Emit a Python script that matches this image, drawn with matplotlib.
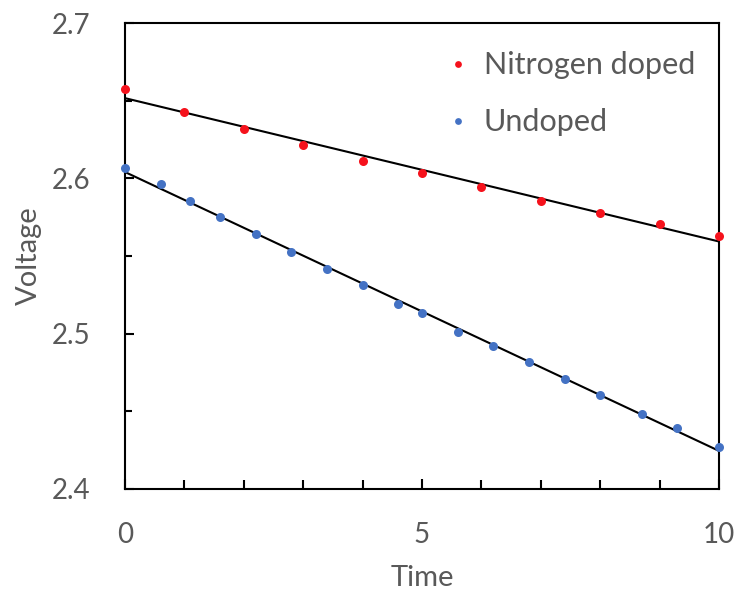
import numpy as np
import matplotlib
matplotlib.use("Agg")
import matplotlib.pyplot as plt
from matplotlib.ticker import MultipleLocator

plt.rcParams['font.family'] = ['Lato', 'DejaVu Sans']

# Nitrogen doped series
time_n = [0, 1, 2, 3, 4, 5, 6, 7, 8, 9, 10]
volt_n = [2.6578, 2.6428, 2.6320, 2.6215, 2.6114, 2.6035, 2.5947, 2.5854, 2.5779, 2.5704, 2.5629]

# Undoped series
time_u = [0, 0.6, 1.1, 1.6, 2.2, 2.8, 3.4, 4.0, 4.6, 5.0, 5.6, 6.2, 6.8, 7.4, 8.0, 8.7, 9.3, 10]
volt_u = [2.6067, 2.5962, 2.5854, 2.5749, 2.5644, 2.5523, 2.5417, 2.5312, 2.5191, 2.5131,
          2.5010, 2.4921, 2.4816, 2.4708, 2.4603, 2.4485, 2.4393, 2.4272]

grey = '#595959'
red = '#F5121C'
blue = '#4472C4'

fig = plt.figure(figsize=(7.34, 5.93), dpi=100)
ax = fig.add_axes([0.1703, 0.1754, 0.8093, 0.7858])

# linear trendlines
xs = np.array([0, 10])
for t, v in [(time_n, volt_n), (time_u, volt_u)]:
    k, b = np.polyfit(t, v, 1)
    ax.plot(xs, k * xs + b, color='black', lw=1.5, zorder=2)

ax.plot(time_n, volt_n, 'o', color=red, ms=6.5, mec='none', label='Nitrogen doped', zorder=3, clip_on=False)
ax.plot(time_u, volt_u, 'o', color=blue, ms=6.5, mec='none', label='Undoped', zorder=3, clip_on=False)

ax.set_xlim(0, 10)
ax.set_ylim(2.4, 2.7)
ax.xaxis.set_major_locator(MultipleLocator(5))
ax.xaxis.set_minor_locator(MultipleLocator(1))
ax.yaxis.set_major_locator(MultipleLocator(0.1))
ax.yaxis.set_minor_locator(MultipleLocator(0.05))
ax.yaxis.set_major_formatter(matplotlib.ticker.FormatStrFormatter('%.1f'))

for s in ax.spines.values():
    s.set_linewidth(1.5)
    s.set_color('black')

ax.tick_params(axis='both', which='both', direction='in', width=1.5, colors='black',
               labelcolor=grey, labelsize=20)
ax.tick_params(axis='x', which='major', length=7.5, pad=24)
ax.tick_params(axis='x', which='minor', length=6.5)
ax.tick_params(axis='y', which='major', length=6.5, pad=25)
ax.tick_params(axis='y', which='minor', length=5)

ax.set_xlabel('Time', fontsize=21, color=grey, labelpad=12)
ax.set_ylabel('Voltage', fontsize=21, color=grey, labelpad=7)

leg = ax.legend(loc='upper left', bbox_to_anchor=(0.519, 0.972), frameon=False,
                fontsize=22, markerscale=0.75, handlelength=0.6, handletextpad=0.55,
                labelspacing=0.95, borderpad=0)
for txt in leg.get_texts():
    txt.set_color(grey)

fig.savefig('out.png', dpi=100)
